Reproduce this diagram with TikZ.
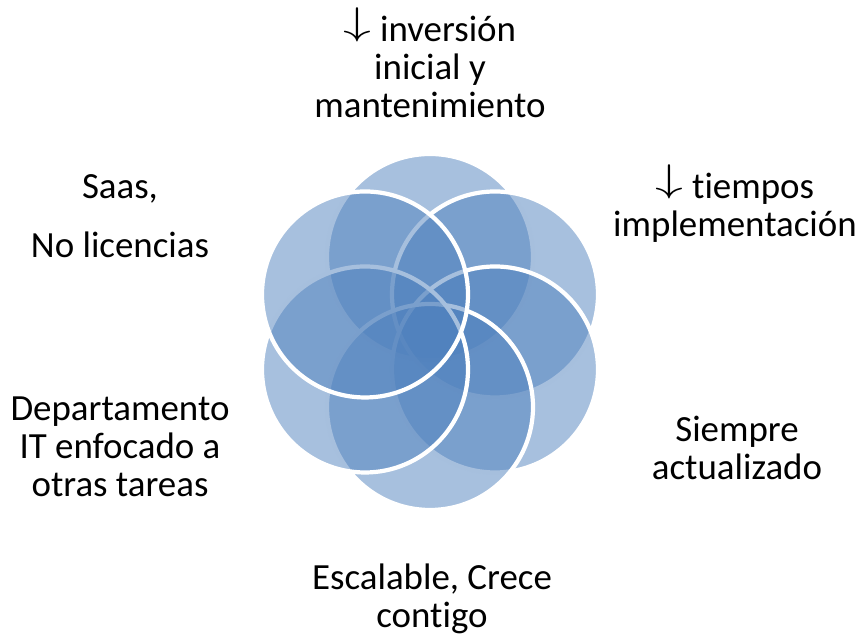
\documentclass[tikz,border=0pt]{standalone}
\usepackage{fontspec}
\setmainfont{Carlito}[Ligatures=NoCommon]
\usepackage{tikz}
\definecolor{petalblue}{RGB}{79,129,189}
\newcommand{\dnarrow}{\raisebox{.18em}{\scalebox{1.45}[1]{$\downarrow$}}}
\tikzset{
    petal/.style={circle, minimum size=2.06cm, inner sep=0pt, fill=petalblue,
        fill opacity=.5, draw=white, draw opacity=1, line width=1.2pt},
    lbl/.style={align=center, anchor=base, inner sep=0pt,
        font=\fontsize{10.5pt}{10.95pt}\selectfont}
}

\begin{document}
\begin{tikzpicture}
    \useasboundingbox (0,0) rectangle (8.63,6.36);
    \node[petal] (p1) at (4.30,3.79) {};
    \node[petal] (p2) at (4.95,3.415) {};
    \node[petal] (p3) at (4.95,2.665) {};
    \node[petal] (p4) at (4.30,2.29) {};
    \node[petal] (p5) at (3.65,2.665) {};
    \node[petal] (p6) at (3.65,3.415) {};
    \node[lbl] (inversion) at (4.30,5.18) {\dnarrow\ inversión\\inicial y\\mantenimiento};
    \node[lbl] (tiempos) at (7.35,3.99) {\dnarrow\ tiempos\\implementación};
    \node[lbl] (siempre) at (7.37,1.56) {Siempre\\actualizado};
    \node[lbl] (escalable) at (4.32,0.08) {Escalable, Crece\\contigo};
    \node[lbl] (depto) at (1.20,1.39) {Departamento\\IT enfocado a\\otras tareas};
    \node[lbl] (saas) at (1.20,3.78) {Saas,\\[6pt]No licencias};
\end{tikzpicture}
\end{document}
